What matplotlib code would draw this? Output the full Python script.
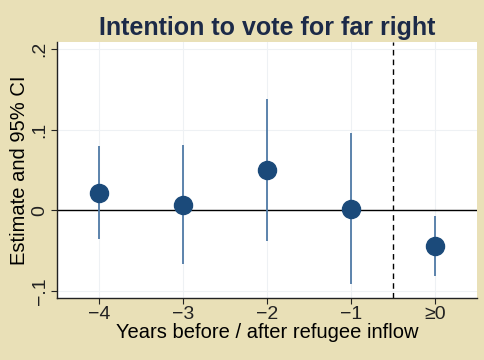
import matplotlib
matplotlib.use('Agg')
import matplotlib.pyplot as plt

plt.rcParams['font.family'] = ['Liberation Sans', 'DejaVu Sans']

# event time bins and estimates
labels = ['\u22124', '\u22123', '\u22122', '\u22121', '\u22650']
estimate = [0.021, 0.006, 0.050, 0.002, -0.045]
ci_low = [-0.036, -0.067, -0.038, -0.091, -0.082]
ci_high = [0.080, 0.081, 0.138, 0.096, -0.007]
yticks = [-0.1, 0, 0.1, 0.2]
yticklabels = ['\u2212.1', '0', '.1', '.2']

bg = '#e9e0b7'
navy = '#1b4a7a'
ci_col = '#4f7aa6'

fig = plt.figure(figsize=(4.85, 3.6), dpi=100, facecolor=bg)
ax = fig.add_axes([57 / 485, 1 - 298 / 360, 420 / 485, 256 / 360])
ax.set_facecolor('white')

x = list(range(1, len(labels) + 1))

for xi in x:
    ax.axvline(xi, color='#eef1f4', lw=0.8, zorder=0)
for yt in yticks:
    ax.axhline(yt, color='#eef1f4', lw=0.8, zorder=0)

ax.axhline(0, color='black', lw=1.0, zorder=1)
ax.axvline(4.5, color='black', lw=1.0, ls=(0, (4, 3)), zorder=1)

ax.vlines(x, ci_low, ci_high, color=ci_col, lw=1.3, zorder=2)
ax.plot(x, estimate, 'o', color=navy, ms=13, zorder=3, mec=navy)

ax.set_xlim(0.5, 5.5)
ax.set_ylim(-0.109, 0.209)
ax.set_xticks(x)
ax.set_xticklabels(labels, fontsize=14)
ax.set_yticks(yticks)
ax.set_yticklabels(yticklabels, fontsize=14, rotation=90, va='center')

for s in ['top', 'right']:
    ax.spines[s].set_visible(False)
for s in ['left', 'bottom']:
    ax.spines[s].set_color('#222222')
    ax.spines[s].set_linewidth(1.0)
ax.tick_params(colors='#222222', length=4, width=0.8, pad=2)

ax.set_xlabel('Years before / after refugee inflow', fontsize=14.5, labelpad=0)
ax.set_ylabel('Estimate and 95% CI', fontsize=14.5, labelpad=2)
ax.set_title('Intention to vote for far right', fontsize=18, fontweight='bold',
             color='#1c2a48', pad=5)

fig.savefig('out.png', dpi=100, facecolor=bg)
